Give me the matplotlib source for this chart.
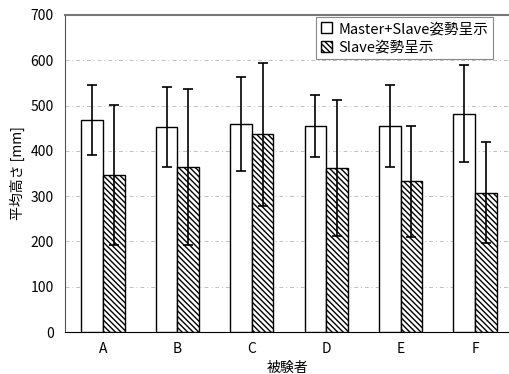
import numpy as np
import matplotlib
matplotlib.use('Agg')
import matplotlib.pyplot as plt
from matplotlib.patches import Patch

plt.rcParams['font.family'] = ['Noto Sans CJK JP', 'DejaVu Sans']
plt.rcParams['hatch.linewidth'] = 1.0

############################################################
# Data

subjects = ['A', 'B', 'C', 'D', 'E', 'F']
ms_mean = [468, 453, 460, 455, 455, 482]
ms_err = [78, 89, 104, 68, 90, 107]
s_mean = [347, 365, 437, 362, 333, 308]
s_err = [155, 172, 158, 150, 122, 112]

label_ms = 'Master+Slave姿勢呈示'
label_s = 'Slave姿勢呈示'

############################################################
# Plotting

hatch = '\\' * 6

fig = plt.figure(figsize=(5.10, 3.74), dpi=100)
ax = fig.add_axes([0.1275, 0.112, 0.8725, 0.848])

x = np.arange(len(subjects))
w = 0.29
ekw = dict(ecolor='k', elinewidth=1.2, capsize=3.5, capthick=1.2)

ax.bar(x - w / 2, ms_mean, w, yerr=ms_err, color='white', edgecolor='k',
       linewidth=1.0, error_kw=ekw, zorder=3)
ax.bar(x + w / 2, s_mean, w, yerr=s_err, color='white', edgecolor='k',
       hatch=hatch, linewidth=1.0, error_kw=ekw, zorder=3)

ax.set_xlim(-0.51, 5.47)
ax.set_ylim(0, 700)
ax.set_yticks(range(0, 701, 100))
ax.set_xticks(x)
ax.set_xticklabels(subjects)
ax.tick_params(axis='both', length=0, labelsize=10, pad=8)
ax.tick_params(axis='x', pad=7)

ax.yaxis.grid(True, linestyle=(0, (4, 3, 1, 3)), color='#c0c0c0', linewidth=0.7, zorder=0)
ax.set_axisbelow(True)

ax.spines['top'].set_color('#777777')
ax.spines['top'].set_linewidth(1.5)
ax.spines['right'].set_visible(False)
ax.spines['left'].set_color('#555555')
ax.spines['bottom'].set_color('k')

ax.set_ylabel('平均高さ [mm]', fontsize=10, labelpad=4)
ax.set_xlabel('被験者', fontsize=10, labelpad=4)

handles = [Patch(facecolor='white', edgecolor='k', label=label_ms),
           Patch(facecolor='white', edgecolor='k', hatch=hatch, label=label_s)]
leg = ax.legend(handles=handles, loc='upper right', bbox_to_anchor=(0.962, 0.994),
                borderaxespad=0, fancybox=False, edgecolor='#888888', fontsize=10.5,
                handlelength=0.8, handleheight=0.8, handletextpad=0.4,
                borderpad=0.35, labelspacing=0.3, framealpha=1)
leg.get_frame().set_linewidth(0.8)

fig.savefig('out.png', dpi=100)
